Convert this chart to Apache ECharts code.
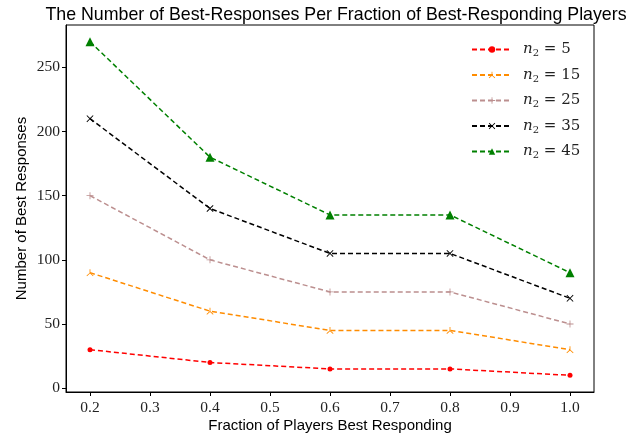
<!DOCTYPE html>
<html><head><meta charset="utf-8">
<script src="https://cdn.jsdelivr.net/npm/echarts@6/dist/echarts.min.js"></script>
<style>html,body{margin:0;padding:0;background:#fff}#c{width:641px;height:440px}</style>
</head><body><div id="c"></div>
<script>
const fractions = [0.2, 0.4, 0.6, 0.8, 1.0];
const xTicks = [0.2, 0.3, 0.4, 0.5, 0.6, 0.7, 0.8, 0.9, 1.0];
const yTicks = [0, 50, 100, 150, 200, 250];
const n2Values = [5, 15, 25, 35, 45];
const n2_5 = [30, 20, 15, 15, 10];
const n2_15 = [90, 60, 45, 45, 30];
const n2_25 = [150, 100, 75, 75, 50];
const n2_35 = [210, 140, 105, 105, 70];
const n2_45 = [270, 180, 135, 135, 90];

const seriesData = [n2_5, n2_15, n2_25, n2_35, n2_45];
const colors = ['#ff0000', '#ff8c00', '#bc8f8f', '#000000', '#008000'];
const symbols = [
  'circle',
  'path://M4.4,0L5.6,0L5.6,5.2L10,8.9L9.3,9.8L5,6.2L0.7,9.8L0,8.9L4.4,5.2Z',
  'path://M4.4,0L5.6,0L5.6,4.4L10,4.4L10,5.6L5.6,5.6L5.6,10L4.4,10L4.4,5.6L0,5.6L0,4.4L4.4,4.4Z',
  'path://M0,0.9L0.9,0L5,4.1L9.1,0L10,0.9L5.9,5L10,9.1L9.1,10L5,5.9L0.9,10L0,9.1L4.1,5Z',
  'triangle'
];
const sizes = [5, 7, 7, 7, 9];

const names = n2Values.map(v => 'n2 = ' + v);
const series = seriesData.map((d, i) => ({
  name: names[i],
  type: 'line',
  data: d.map((v, j) => [fractions[j], v]),
  symbol: symbols[i],
  symbolSize: sizes[i],
  showSymbol: true,
  color: colors[i],
  itemStyle: { color: colors[i] },
  lineStyle: { color: colors[i], width: 1.5, type: [5, 3] },
  emphasis: { disabled: true },
  animation: false
}));

const chart = echarts.init(document.getElementById('c'), null, { renderer: 'canvas' });
chart.setOption({
  animation: false,
  backgroundColor: '#fff',
  title: {
    text: 'The Number of Best-Responses Per Fraction of Best-Responding Players',
    left: 331, top: 1, textAlign: 'center',
    textStyle: { fontFamily: 'Liberation Sans', fontSize: 17.8, fontWeight: 'normal', color: '#000' }
  },
  grid: { left: 66, right: 47, top: 25, bottom: 48, show: true, borderColor: '#000', borderWidth: 1, backgroundColor: 'transparent' },
  legend: {
    orient: 'vertical', left: 466, top: 37, itemGap: 9, itemWidth: 40, itemHeight: 8,
    data: names.map((n, i) => ({ name: n, itemStyle: { color: colors[i] } })),
    formatter: function (name) { const v = name.split('= ')[1]; return '{i|n}{s|2}{t| = ' + v + '}'; },
    textStyle: {
      color: '#222', padding: [0, 0, 0, 6],
      rich: {
        i: { fontFamily: 'DejaVu Serif', fontStyle: 'italic', fontSize: 15, color: '#222' },
        s: { fontFamily: 'DejaVu Serif', fontSize: 10, color: '#222', padding: [8, 0, 0, 0] },
        t: { fontFamily: 'DejaVu Serif', fontSize: 15, color: '#222' }
      }
    }
  },
  xAxis: {
    type: 'value', min: 0.16, max: 1.04,
    name: 'Fraction of Players Best Responding', nameLocation: 'middle', nameGap: 26, nameMoveOverlap: false,
    nameTextStyle: { fontFamily: 'Liberation Sans', fontSize: 15, color: '#000' },
    axisLine: { show: true, onZero: false, lineStyle: { color: '#000', width: 1 } },
    axisTick: { show: true, length: 4, customValues: xTicks, lineStyle: { color: '#000' } },
    axisLabel: { customValues: xTicks, margin: 8, fontFamily: 'Liberation Serif', fontSize: 15.5, color: '#222', formatter: v => v.toFixed(1) },
    splitLine: { show: false }
  },
  yAxis: {
    type: 'value', min: -3, max: 283,
    name: 'Number of Best Responses', nameLocation: 'middle', nameGap: 37, nameRotate: 90, nameMoveOverlap: false,
    nameTextStyle: { fontFamily: 'Liberation Sans', fontSize: 15, color: '#000' },
    axisLine: { show: true, onZero: false, lineStyle: { color: '#000', width: 1 } },
    axisTick: { show: true, length: 4, customValues: yTicks, lineStyle: { color: '#000' } },
    axisLabel: { customValues: yTicks, margin: 6, fontFamily: 'Liberation Serif', fontSize: 15.5, color: '#222' },
    splitLine: { show: false }
  },
  series: series
});
</script></body></html>
